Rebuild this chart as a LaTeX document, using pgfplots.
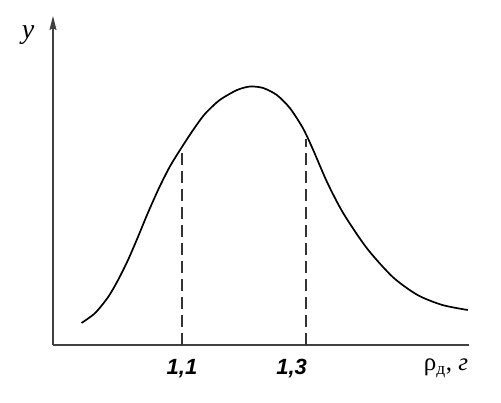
\documentclass[border=0pt]{standalone}
\usepackage{fontspec}
\setmainfont{Liberation Serif}
\newfontfamily\tickfont{Liberation Sans}
\usepackage{pgfplots}
\pgfplotsset{compat=1.18}
\usetikzlibrary{arrows.meta}
\begin{document}
\begin{tikzpicture}
\begin{axis}[
  at={(0,0)}, anchor=south west,
  scale only axis, width=416pt, height=329pt,
  xmin=0.892, xmax=1.563, ymin=0, ymax=329,
  axis x line=bottom, axis y line=left,
  x axis line style={-, line width=1.4pt, color=black!75},
  y axis line style={-{Stealth[length=14pt,width=7pt,inset=2pt]}, line width=1.4pt, color=black!75},
  xtick=\empty, ytick=\empty,
  clip=false,
]
\addplot[black, line width=1.7pt, smooth, tension=0.45] coordinates {
 (0.938,22) (0.960,32) (0.981,48) (0.997,65) (1.013,85) (1.029,108)
 (1.045,132) (1.063,157) (1.081,179) (1.100,198) (1.118,215) (1.137,231)
 (1.161,245) (1.189,255) (1.210,258.5) (1.231,257) (1.253,250) (1.274,237)
 (1.295,217) (1.311,196) (1.334,163) (1.360,132) (1.398,97)
 (1.440,68) (1.480,50) (1.520,40) (1.561,35)
};
\addplot[black!80, line width=1.4pt, dash pattern=on 12pt off 6pt] coordinates {(1.1,0) (1.1,196)};
\addplot[black!80, line width=1.4pt, dash pattern=on 12pt off 6pt] coordinates {(1.3,0) (1.3,206)};
\node[font=\tickfont\bfseries\itshape\fontsize{22}{24}\selectfont] at (axis cs:1.1,-24) {1,1};
\node[font=\tickfont\bfseries\itshape\fontsize{22}{24}\selectfont] at (axis cs:1.277,-24) {1,3};
\node[font=\fontsize{25}{27}\selectfont] at (axis cs:1.526,-23) {ρ\textsubscript{д}, \textit{г}};
\node[font=\itshape\fontsize{28}{30}\selectfont] at (axis cs:0.852,310) {у};
\end{axis}
\useasboundingbox (-53pt,-57pt) rectangle (448pt,345pt);
\end{tikzpicture}
\end{document}
